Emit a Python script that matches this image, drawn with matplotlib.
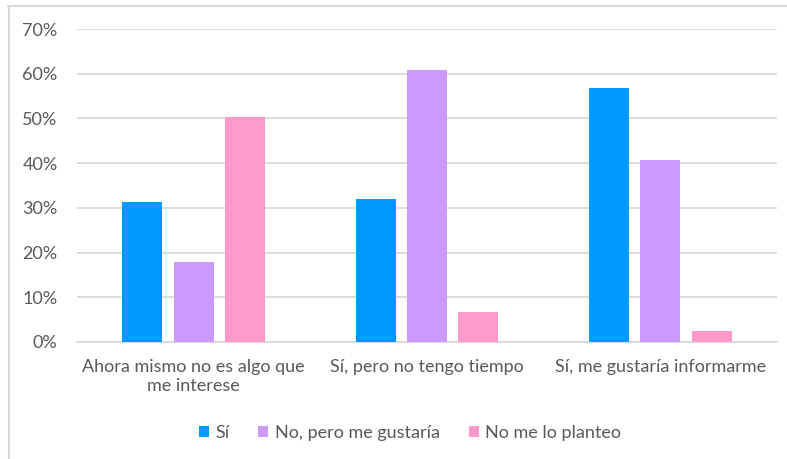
import matplotlib
matplotlib.use("Agg")
import matplotlib.pyplot as plt
import numpy as np
from matplotlib.patches import Patch
from matplotlib.lines import Line2D

# data
categories = ["Ahora mismo no es algo que\nme interese",
              "Sí, pero no tengo tiempo",
              "Sí, me gustaría informarme"]
series_names = ["Sí", "No, pero me gustaría", "No me lo planteo"]
si = [31.3, 31.9, 56.7]
no_pero = [17.8, 60.8, 40.6]
no_planteo = [50.3, 6.6, 2.4]
colors = ["#0099FF", "#CC99FF", "#FF99CC"]
yticks = [0, 10, 20, 30, 40, 50, 60, 70]

plt.rcParams["font.family"] = ["Lato", "DejaVu Sans"]
text_col = "#595959"
grid_col = "#D9D9D9"

W, H = 787, 459
fig = plt.figure(figsize=(W / 100, H / 100), dpi=100)
ax = fig.add_axes([77 / W, 1 - 342 / H, 700 / W, (342 - 29) / H])

x = np.arange(len(categories))
step = 0.22
width = 0.172
for i, (vals, col) in enumerate(zip([si, no_pero, no_planteo], colors)):
    ax.bar(x + (i - 1) * step, vals, width, color=col, zorder=3)

ax.set_xlim(-0.5, len(categories) - 0.5)
ax.set_ylim(0, 70)
ax.set_yticks(yticks)
ax.set_yticklabels([f"{t}%" for t in yticks])
ax.set_xticks(x)
ax.set_xticklabels(categories, linespacing=1.25)
ax.tick_params(axis="both", length=0, colors=text_col, labelsize=13)
ax.tick_params(axis="y", pad=14)
ax.tick_params(axis="x", pad=12)
ax.grid(axis="y", color=grid_col, lw=1.3, zorder=0)
for s in ["top", "right", "left"]:
    ax.spines[s].set_visible(False)
ax.spines["bottom"].set_color(grid_col)
ax.spines["bottom"].set_linewidth(1.3)

handles = [Patch(facecolor=c, edgecolor="none") for c in colors]
fig.legend(handles, series_names, loc="center", bbox_to_anchor=(410 / W, 1 - 433 / H),
           ncol=3, frameon=False, fontsize=13, labelcolor=text_col,
           handlelength=0.55, handleheight=0.55, handletextpad=0.35, columnspacing=1.6)

# outer chart border (top and left visible)
fig.add_artist(Line2D([8 / W, 1], [1 - 5.5 / H, 1 - 5.5 / H], color=grid_col, lw=1.5,
                      transform=fig.transFigure))
fig.add_artist(Line2D([8.5 / W, 8.5 / W], [0, 1 - 5.5 / H], color=grid_col, lw=1.5,
                      transform=fig.transFigure))

fig.savefig("out.png", dpi=100)
